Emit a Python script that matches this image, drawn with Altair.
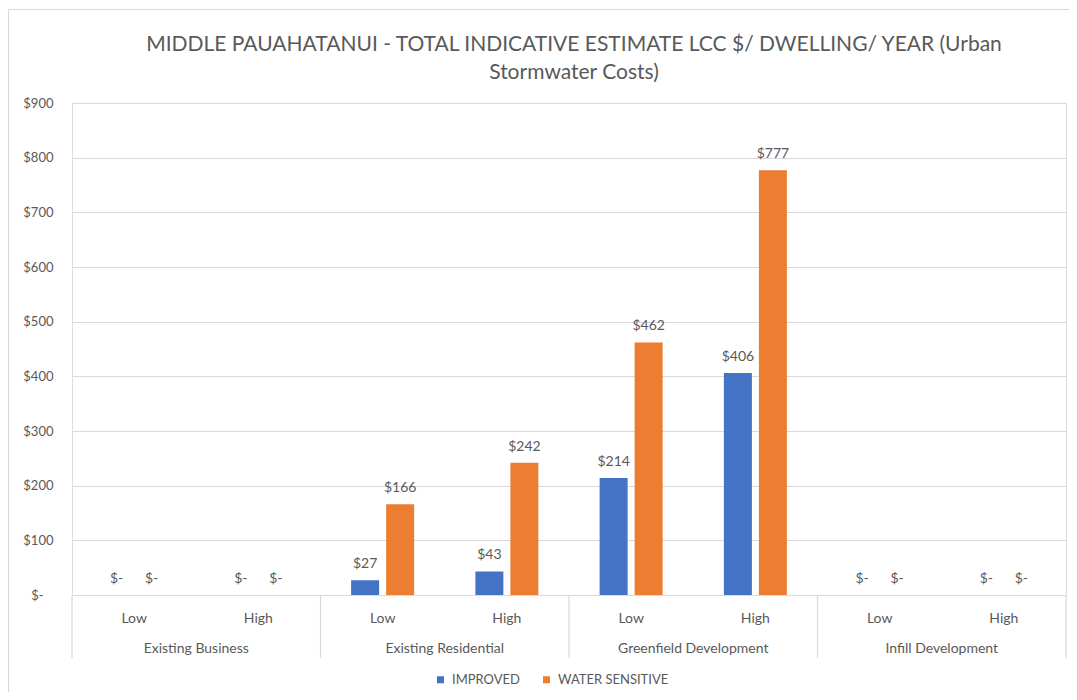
import altair as alt
import pandas as pd

groups = ["Existing Business", "Existing Residential", "Greenfield Development", "Infill Development"]
levels = ["Low", "High"]
series = ["IMPROVED", "WATER SENSITIVE"]
improved = [0, 0, 27, 43, 214, 406, 0, 0]
water_sensitive = [0, 0, 166, 242, 462, 777, 0, 0]
y_ticks = [0, 100, 200, 300, 400, 500, 600, 700, 800, 900]
colors = ["#4472C4", "#ED7D31"]
title_lines = ["MIDDLE PAUAHATANUI - TOTAL INDICATIVE ESTIMATE LCC $/ DWELLING/ YEAR (Urban",
               "Stormwater Costs)"]

slots = [f"{g}|{l}" for g in groups for l in levels]
rows = []
for i, s in enumerate(slots):
    for name, vals in zip(series, [improved, water_sensitive]):
        v = vals[i]
        rows.append({"slot": s, "series": name, "value": v,
                     "label": "$-" if v == 0 else f"${v}"})
df = pd.DataFrame(rows)

grp_first = pd.DataFrame({"slot": [f"{g}|{levels[0]}" for g in groups], "group": groups})
grp_last = pd.DataFrame({"slot": [f"{groups[-1]}|{levels[-1]}"]})

W, H = 994, 492
FONT = "Lato"
GRAY = "#595959"
LINE = "#d9d9d9"

xscale = alt.Scale(type="band", domain=slots, paddingInner=0, paddingOuter=0)
yscale = alt.Scale(domain=[0, 900])
one_row = alt.Data(values=[{"a": 1}])

frame_top = alt.Chart(one_row).mark_rule(color=LINE, strokeWidth=1.2).encode(
    x=alt.value(-63.5), x2=alt.value(W + 300), y=alt.value(-93.5))
frame_left = alt.Chart(one_row).mark_rule(color=LINE, strokeWidth=1.2).encode(
    x=alt.value(-63.5), y=alt.value(-93.5), y2=alt.value(H + 200))

bars = alt.Chart(df).mark_bar().encode(
    x=alt.X("slot:N", scale=xscale, sort=slots,
            axis=alt.Axis(title=None, labelExpr="split(datum.label, '|')[1]", ticks=False,
                          domain=True, domainColor=LINE, labelAngle=0, labelPadding=16,
                          labelFont=FONT, labelFontSize=14, labelColor=GRAY, labelBaseline="top")),
    xOffset=alt.XOffset("series:N", scale=alt.Scale(domain=series, paddingInner=0.2, paddingOuter=0.875)),
    y=alt.Y("value:Q", scale=yscale,
            axis=alt.Axis(title=None, values=y_ticks, domain=False, ticks=False, grid=True,
                          gridColor=LINE, gridWidth=1.2,
                          labelPadding={"condition": {"test": "datum.value === 0", "value": 29}, "value": 19},
                          labelExpr="datum.value == 0 ? '$-' : '$' + datum.value",
                          labelFont=FONT, labelFontSize=13, labelColor=GRAY)),
    color=alt.Color("series:N", scale=alt.Scale(domain=series, range=colors),
                    legend=alt.Legend(title=None, orient="none", legendX=362, legendY=570,
                                      direction="horizontal", symbolType="square", symbolSize=49,
                                      symbolStrokeWidth=0, labelFont=FONT, labelFontSize=13,
                                      labelColor=GRAY, columnPadding=20, labelOffset=5)),
)

labels = alt.Chart(df).mark_text(dy=-16, baseline="middle", font=FONT, fontSize=14, color=GRAY).encode(
    x=alt.X("slot:N", scale=xscale, sort=slots),
    xOffset=alt.XOffset("series:N", scale=alt.Scale(domain=series, paddingInner=0.2, paddingOuter=0.875)),
    y=alt.Y("value:Q", scale=yscale),
    text="label:N",
)

sep_first = alt.Chart(grp_first).mark_rule(color=LINE, strokeWidth=1.2).encode(
    x=alt.X("slot:N", scale=xscale, sort=slots, bandPosition=0),
    y=alt.value(H), y2=alt.value(H + 63),
)
sep_last = alt.Chart(grp_last).mark_rule(color=LINE, strokeWidth=1.2).encode(
    x=alt.X("slot:N", scale=xscale, sort=slots, bandPosition=1),
    y=alt.value(H), y2=alt.value(H + 63),
)
group_text = alt.Chart(grp_first).mark_text(baseline="middle", font=FONT, fontSize=14, color=GRAY).encode(
    x=alt.X("slot:N", scale=xscale, sort=slots, bandPosition=1),
    y=alt.value(H + 54),
    text="group:N",
)

chart = alt.layer(frame_top, frame_left, bars, labels, sep_first, sep_last, group_text).properties(
    width=W, height=H,
    autosize=alt.AutoSizeParams(type="none"),
    padding={"left": 64, "top": 95, "right": 3, "bottom": 97},
    title=alt.TitleParams(title_lines, font=FONT, fontSize=21, fontWeight="normal", color=GRAY,
                          anchor="middle", lineHeight=28, offset=-74, dx=5),
).configure_view(stroke=None).configure(background="white")

chart.save("out.html", embed_options={"renderer": "svg", "actions": False})
